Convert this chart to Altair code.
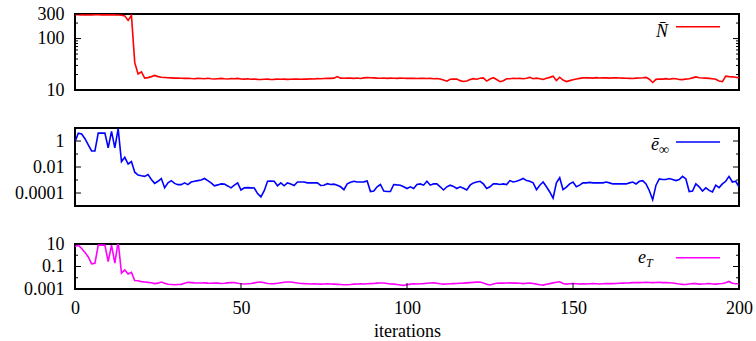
import altair as alt
import pandas as pd

iterations = list(range(201))

n_bar = [
    292, 290, 288, 286, 287, 289, 290, 290, 289, 290,
    289, 290, 288, 287, 283, 276, 225, 282, 34, 20.5,
    22.5, 17.0, 17.4, 18.2, 19.2, 18.2, 17.7, 17.5, 17.3, 17.2,
    17.0, 17.1, 16.9, 16.8, 16.9, 16.7, 16.6, 16.8, 16.7, 16.6,
    16.9, 16.5, 16.4, 16.6, 16.8, 16.5, 16.4, 16.7, 16.5, 16.8,
    16.4, 16.3, 16.5, 16.2, 16.4, 16.1, 16.0, 16.2, 16.3, 16.0,
    16.1, 16.4, 16.2, 16.3, 16.1, 16.2, 16.4, 16.3, 16.2, 16.4,
    16.3, 16.5, 16.4, 16.6, 16.5, 16.7, 16.8, 16.8, 17.0, 18.2,
    17.0, 16.9, 17.1, 17.0, 16.8, 17.1, 16.7, 17.2, 17.4, 17.3,
    17.2, 17.0, 16.9, 17.1, 16.8, 17.0, 16.9, 16.8, 17.0, 16.9,
    16.8, 16.9, 16.8, 16.7, 16.8, 16.9, 16.7, 16.8, 16.6, 16.7,
    16.3, 15.6, 14.8, 16.2, 16.4, 16.3, 15.2, 14.6, 15.0, 16.0,
    16.6, 16.2, 16.9, 17.2, 14.9, 16.3, 17.3, 16.0, 14.5, 15.2,
    16.5, 16.6, 16.9, 16.7, 16.8, 16.5, 16.9, 17.6, 16.6, 17.0,
    16.6, 16.0, 17.0, 17.6, 18.6, 15.3, 17.7, 15.6, 14.6, 15.2,
    15.8, 16.3, 16.8, 17.2, 17.3, 17.2, 17.0, 17.4, 17.1, 17.3,
    17.2, 17.0, 17.3, 17.2, 17.1, 17.0, 16.9, 16.8, 16.7, 17.0,
    17.1, 17.3, 17.6, 16.2, 14.0, 16.1, 16.4, 16.3, 16.6, 16.2,
    16.6, 16.5, 16.0, 15.9, 16.3, 16.6, 17.2, 18.0, 17.3, 17.1,
    17.0, 16.8, 16.5, 16.2, 15.0, 14.5, 18.6, 18.2, 18.0, 17.7,
    17.2,
]

e_inf = [
    0.9, 4, 3.5, 1.5, 0.5, 0.17, 0.17, 4, 4, 4,
    0.3, 5.5, 0.3, 9, 0.026, 0.056, 0.017, 0.026, 0.004, 0.0024,
    0.0021, 0.0019, 0.0026, 0.0011, 0.00055, 0.0008, 0.0013, 0.00025, 0.0006, 0.00089,
    0.00055, 0.00044, 0.00044, 0.0006, 0.00044, 0.0007, 0.0008, 0.0009, 0.001, 0.0013,
    0.0009, 0.0006, 0.00036, 0.00042, 0.0005, 0.00048, 0.00035, 0.00025, 0.0004, 0.0006,
    0.00017, 0.00025, 0.00026, 0.00025, 0.00024, 0.00009, 0.00005, 0.00015, 0.0008, 0.00082,
    0.0008, 0.00036, 0.0006, 0.00036, 0.0006, 0.0005, 0.00038, 0.0007, 0.0007, 0.0007,
    0.0006, 0.00062, 0.0006, 0.0006, 0.00038, 0.0004, 0.00052, 0.00045, 0.00048, 0.0004,
    0.0003, 0.00018, 0.0005, 0.00068, 0.0008, 0.0007, 0.0007, 0.00072, 0.00085, 0.00013,
    0.00014, 0.0003, 0.00045, 0.00014, 0.00013, 0.00013, 0.00045, 0.00042, 0.0004, 0.0003,
    0.00022, 0.0003, 0.00022, 0.00045, 0.0005, 0.0004, 0.0008, 0.0004, 0.0005, 0.0005,
    0.0003, 0.00017, 0.0003, 0.0004, 0.00032, 0.00022, 0.0003, 0.00023, 0.00017, 0.0004,
    0.0006, 0.0007, 0.0008, 0.0005, 0.00022, 0.0003, 0.0005, 0.0005, 0.00045, 0.0005,
    0.00045, 0.0009, 0.0007, 0.0008, 0.0010, 0.0013, 0.0009, 0.0008, 0.0006, 0.00018,
    0.0004, 0.0007, 0.0003, 0.00012, 0.00004, 0.0006, 0.0015, 0.00018, 0.00028, 0.0005,
    0.0007, 0.0003, 0.0004, 0.0006, 0.0006, 0.00065, 0.0006, 0.0006, 0.0006, 0.0006,
    0.0007, 0.0006, 0.0005, 0.0005, 0.0005, 0.0005, 0.0005, 0.0006, 0.0007, 0.0005,
    0.0008, 0.0009, 0.0005, 0.00015, 0.00003, 0.0004, 0.0012, 0.0011, 0.0011, 0.0013,
    0.0011, 0.0009, 0.0011, 0.0019, 0.0012, 0.00013, 0.00014, 0.0005, 0.0003, 0.00014,
    0.00025, 0.00016, 0.00012, 0.0004, 0.00026, 0.0005, 0.0008, 0.0019, 0.0007, 0.0008,
    0.0003,
]

e_t = [
    6, 8, 4, 1.8, 0.7, 0.17, 0.19, 8, 8, 8,
    0.27, 8, 0.2, 16, 0.026, 0.05, 0.022, 0.03, 0.0057, 0.0055,
    0.0045, 0.0042, 0.0039, 0.0036, 0.003, 0.0033, 0.0042, 0.0033, 0.0026, 0.0025,
    0.0024, 0.0025, 0.0026, 0.0032, 0.0039, 0.0037, 0.0035, 0.0034, 0.0034, 0.0035,
    0.0033, 0.0032, 0.0034, 0.0033, 0.0031, 0.0032, 0.0035, 0.0037, 0.0038, 0.0032,
    0.0029, 0.0028, 0.0029, 0.0031, 0.0035, 0.0040, 0.0042, 0.0036, 0.0031, 0.0029,
    0.0030, 0.0032, 0.0036, 0.0040, 0.0042, 0.0042, 0.0038, 0.0034, 0.0031, 0.0030,
    0.0029, 0.0028, 0.0029, 0.0028, 0.0027, 0.0028, 0.0029, 0.0028, 0.0027, 0.0026,
    0.0025, 0.0024, 0.0024, 0.0025, 0.0027, 0.0028, 0.0029, 0.0028, 0.0029, 0.0030,
    0.0031, 0.0033, 0.0034, 0.0034, 0.0031, 0.0028, 0.0027, 0.0025, 0.0023, 0.0021,
    0.0024, 0.0027, 0.0029, 0.0028, 0.0029, 0.0030, 0.0032, 0.0034, 0.0035, 0.0032,
    0.0029, 0.0027, 0.0028, 0.0029, 0.0030, 0.0031, 0.0032, 0.0033, 0.0035, 0.0037,
    0.0039, 0.0041, 0.0042, 0.0034, 0.0026, 0.0023, 0.0028, 0.0032, 0.0034, 0.0033,
    0.0034, 0.0035, 0.0033, 0.0034, 0.0032, 0.0030, 0.0032, 0.0033, 0.0031, 0.0027,
    0.0024, 0.0022, 0.0026, 0.0030, 0.0035, 0.0040, 0.0044, 0.0031, 0.0027, 0.0029,
    0.0030, 0.0029, 0.0028, 0.0029, 0.0028, 0.0029, 0.0030, 0.0029, 0.0028, 0.0029,
    0.0030, 0.0031, 0.0030, 0.0031, 0.0032, 0.0033, 0.0034, 0.0035, 0.0037, 0.0038,
    0.0037, 0.0038, 0.0039, 0.0038, 0.0037, 0.0038, 0.0039, 0.0037, 0.0038, 0.0036,
    0.0034, 0.0031, 0.0028, 0.0026, 0.0025, 0.0028, 0.0031, 0.0030, 0.0027, 0.0028,
    0.0029, 0.0031, 0.0028, 0.0027, 0.0029, 0.0031, 0.0036, 0.0047, 0.0032, 0.0029,
    0.0029,
]

x_labels = [0, 50, 100, 150, 200]
n_labels = [10, 100, 300]
n_minor = [20, 30, 40, 50, 60, 70, 80, 90, 200]
einf_labels = [0.0001, 0.01, 1]
einf_minor = [0.001, 0.1]
et_labels = [0.001, 0.1, 10]
et_minor = [0.01, 1]

W = 664
FONT = "Liberation Serif"
FS = 18
MATH = "Liberation Serif"

df = pd.DataFrame({"it": iterations, "N": n_bar, "einf": e_inf, "eT": e_t})
one = pd.DataFrame({"a": [0]})
xscale = alt.Scale(domain=[0, 200], nice=False, zero=False)


def yticks(vals, yscale, yaxis, length):
    d = pd.DataFrame({"v": vals})
    left = alt.Chart(d).mark_rule(color="black", strokeWidth=1).encode(
        y=alt.Y("v:Q", scale=yscale, axis=yaxis), x=alt.value(0), x2=alt.value(length))
    right = alt.Chart(d).mark_rule(color="black", strokeWidth=1).encode(
        y=alt.Y("v:Q", scale=yscale, axis=yaxis), x=alt.value(W), x2=alt.value(W - length))
    return [left, right]


def legend(color, parts, line_y):
    layers = []
    for txt, x, y, size, align in parts:
        layers.append(alt.Chart(one).mark_text(
            text=txt, font=MATH, fontStyle="italic", fontSize=size, align=align,
            baseline="alphabetic", color="black").encode(x=alt.value(x), y=alt.value(y)))
    layers.append(alt.Chart(one).mark_rule(color=color, strokeWidth=1.6).encode(
        x=alt.value(601), x2=alt.value(645), y=alt.value(line_y)))
    return layers


def panel(field, color, domain, labels, minor, height, leg, show_x):
    yscale = alt.Scale(type="log", domain=domain, nice=False)
    yaxis = alt.Axis(values=labels, format="~g", title=None, grid=False, ticks=False,
                     domain=False, labelFont=FONT, labelFontSize=FS, labelPadding=11,
                     labelColor="black")
    xaxis = alt.Axis(values=x_labels, format="d", title="iterations", grid=False,
                     ticks=False, domain=False, labelFont=FONT, labelFontSize=FS,
                     labelPadding=10, titleFont=FONT, titleFontSize=FS,
                     titleFontWeight="normal", titlePadding=5, labelColor="black",
                     titleColor="black", labelFlush=False)
    if show_x:
        xenc = alt.X("it:Q", scale=xscale, axis=xaxis)
    else:
        xenc = alt.X("it:Q", scale=xscale, axis=None)
    line = alt.Chart(df).mark_line(color=color, strokeWidth=1.6, clip=True).encode(
        x=xenc,
        y=alt.Y(f"{field}:Q", scale=yscale, axis=yaxis))
    layers = [line] + yticks(labels, yscale, yaxis, 6) + yticks(minor, yscale, yaxis, 3) + leg
    if show_x:
        layers.append(alt.Chart(pd.DataFrame({"v": x_labels})).mark_rule(
            color="black", strokeWidth=1).encode(
            x=alt.X("v:Q", scale=xscale, axis=xaxis),
            y=alt.value(height), y2=alt.value(height - 6)))
    return alt.layer(*layers).properties(width=W, height=height)


p1 = panel("N", "#ff0000", [10, 300], n_labels, n_minor, 76,
           legend("#ff0000", [("N\u0304", 593, 22.7, 18, "right")], 12.7), False)
p2 = panel("einf", "#0000ff", [1e-5, 10], einf_labels, einf_minor, 78,
           legend("#0000ff", [("\u0113", 584, 22.3, 18, "right"),
                              ("\u221e", 584, 25.6, 14, "left")], 14), False)
p3 = panel("eT", "#ff00ff", [0.001, 10], et_labels, et_minor, 45,
           legend("#ff00ff", [("e", 571, 18.7, 18, "right"),
                              ("T", 571, 23, 12, "left")], 13.7), True)

chart = alt.vconcat(p1, p2, p3, spacing=38, bounds="flush").properties(
    padding={"left": 13, "top": 4, "right": 0, "bottom": 0},
    background="white",
).configure_view(stroke="black", strokeWidth=2)

chart.save("out.html", embed_options={"renderer": "svg", "actions": False})
